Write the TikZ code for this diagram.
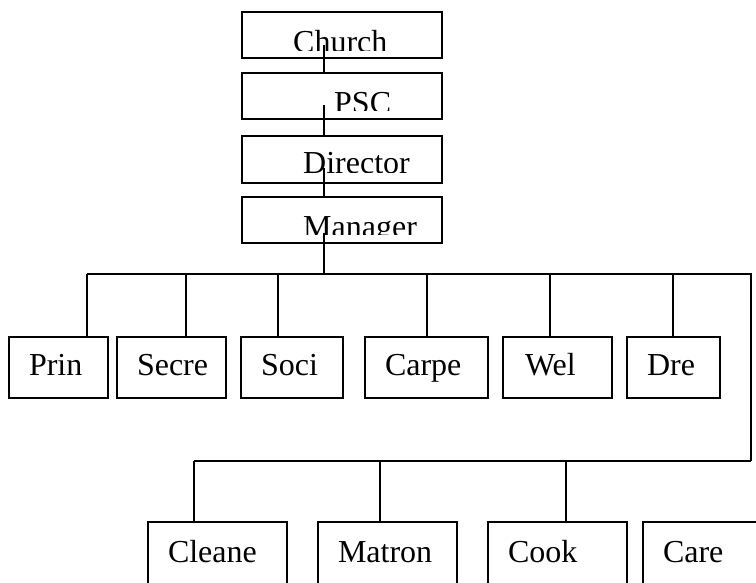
\documentclass[tikz,border=0pt]{standalone}
\usepackage{fontspec}
\setmainfont{Liberation Serif}
\usepackage{tikz}
\tikzset{
  topbox/.style={draw, line width=1.3pt, minimum width=200pt, minimum height=46pt, inner sep=0pt, outer sep=0pt},
  unit/.style={draw, line width=1.3pt, anchor=north west, inner xsep=20pt, inner ysep=0pt, outer sep=0pt, align=left, text height=38pt, text depth=23pt},
  lowunit/.style={unit, text height=40pt, text depth=26pt},
  link/.style={line width=1.3pt},
}
\begin{document}
\begin{tikzpicture}[x=1pt,y=-1pt]
\tikzstyle{every node}=[font=\fontsize{32}{38}\selectfont]
\useasboundingbox (0,0) rectangle (756,582);
% top boxes
\node[topbox] (church) at (342,35) {};
\node[topbox] (psc) at (342,96) {};
\node[topbox, minimum height=47pt] (director) at (342,159.5) {};
\node[topbox] (manager) at (342,220) {};
\begin{scope}
\clip (242,12) rectangle (442,50);
\node[anchor=base west, inner sep=0pt] (churchtxt) at (293,52) {Church};
\end{scope}
\begin{scope}
\clip (242,73) rectangle (442,110);
\node[anchor=base west, inner sep=0pt] (psctxt) at (334,113) {PSC};
\end{scope}
\begin{scope}
\clip (242,136) rectangle (442,172);
\node[anchor=base west, inner sep=0pt] (directortxt) at (303,173) {Director};
\end{scope}
\begin{scope}
\clip (242,197) rectangle (442,234);
\node[anchor=base west, inner sep=0pt] (managertxt) at (303,237) {Manager};
\end{scope}
\coordinate (churchcut) at (324,45);
\coordinate (psccut) at (324,105);
\coordinate (directorcut) at (324,168);
\coordinate (managercut) at (324,233);
\draw[link] (churchcut) -- (churchcut |- psc.north);
\draw[link] (psccut) -- (psccut |- director.north);
\draw[link] (directorcut) -- (directorcut |- manager.north);
% middle row
\node[unit, text width=59pt] (prin) at (9,337) {Prin};
\node[unit, text width=69pt] (secre) at (117,337) {Secre};
\node[unit, text width=62pt] (soci) at (241,337) {Soci};
\node[unit, text width=83pt] (carpe) at (365,337) {Carpe};
\node[unit, inner xsep=22pt, text width=65pt] (wel) at (503,337) {Wel};
\node[unit, text width=53pt] (dre) at (627,337) {Dre};
\coordinate (b-prin) at (87,274);
\coordinate (b-secre) at (186,274);
\coordinate (b-soci) at (278,274);
\coordinate (b-carpe) at (427,274);
\coordinate (b-wel) at (550,274);
\coordinate (b-dre) at (673,274);
\coordinate (b-right) at (751,274);
\draw[link] (managercut) -- (managercut |- b-prin);
\draw[link] (b-prin) -- (b-right) -- (b-right |- 0,461);
\draw[link] (b-prin) -- (b-prin |- prin.north);
\draw[link] (b-secre) -- (b-secre |- secre.north);
\draw[link] (b-soci) -- (b-soci |- soci.north);
\draw[link] (b-carpe) -- (b-carpe |- carpe.north);
\draw[link] (b-wel) -- (b-wel |- wel.north);
\draw[link] (b-dre) -- (b-dre |- dre.north);
% bottom row
\node[lowunit, text width=99pt] (cleane) at (148,522) {Cleane};
\node[lowunit, text width=99pt] (matron) at (318,522) {Matron};
\node[lowunit, text width=99pt] (cook) at (488,522) {Cook};
\node[lowunit, text width=99pt] (care) at (643,522) {Care};
\coordinate (c-cleane) at (194,461);
\coordinate (c-matron) at (380,461);
\coordinate (c-cook) at (566,461);
\coordinate (c-right) at (751,461);
\draw[link] (c-cleane) -- (c-right);
\draw[link] (c-cleane) -- (c-cleane |- cleane.north);
\draw[link] (c-matron) -- (c-matron |- matron.north);
\draw[link] (c-cook) -- (c-cook |- cook.north);
\end{tikzpicture}
\end{document}
